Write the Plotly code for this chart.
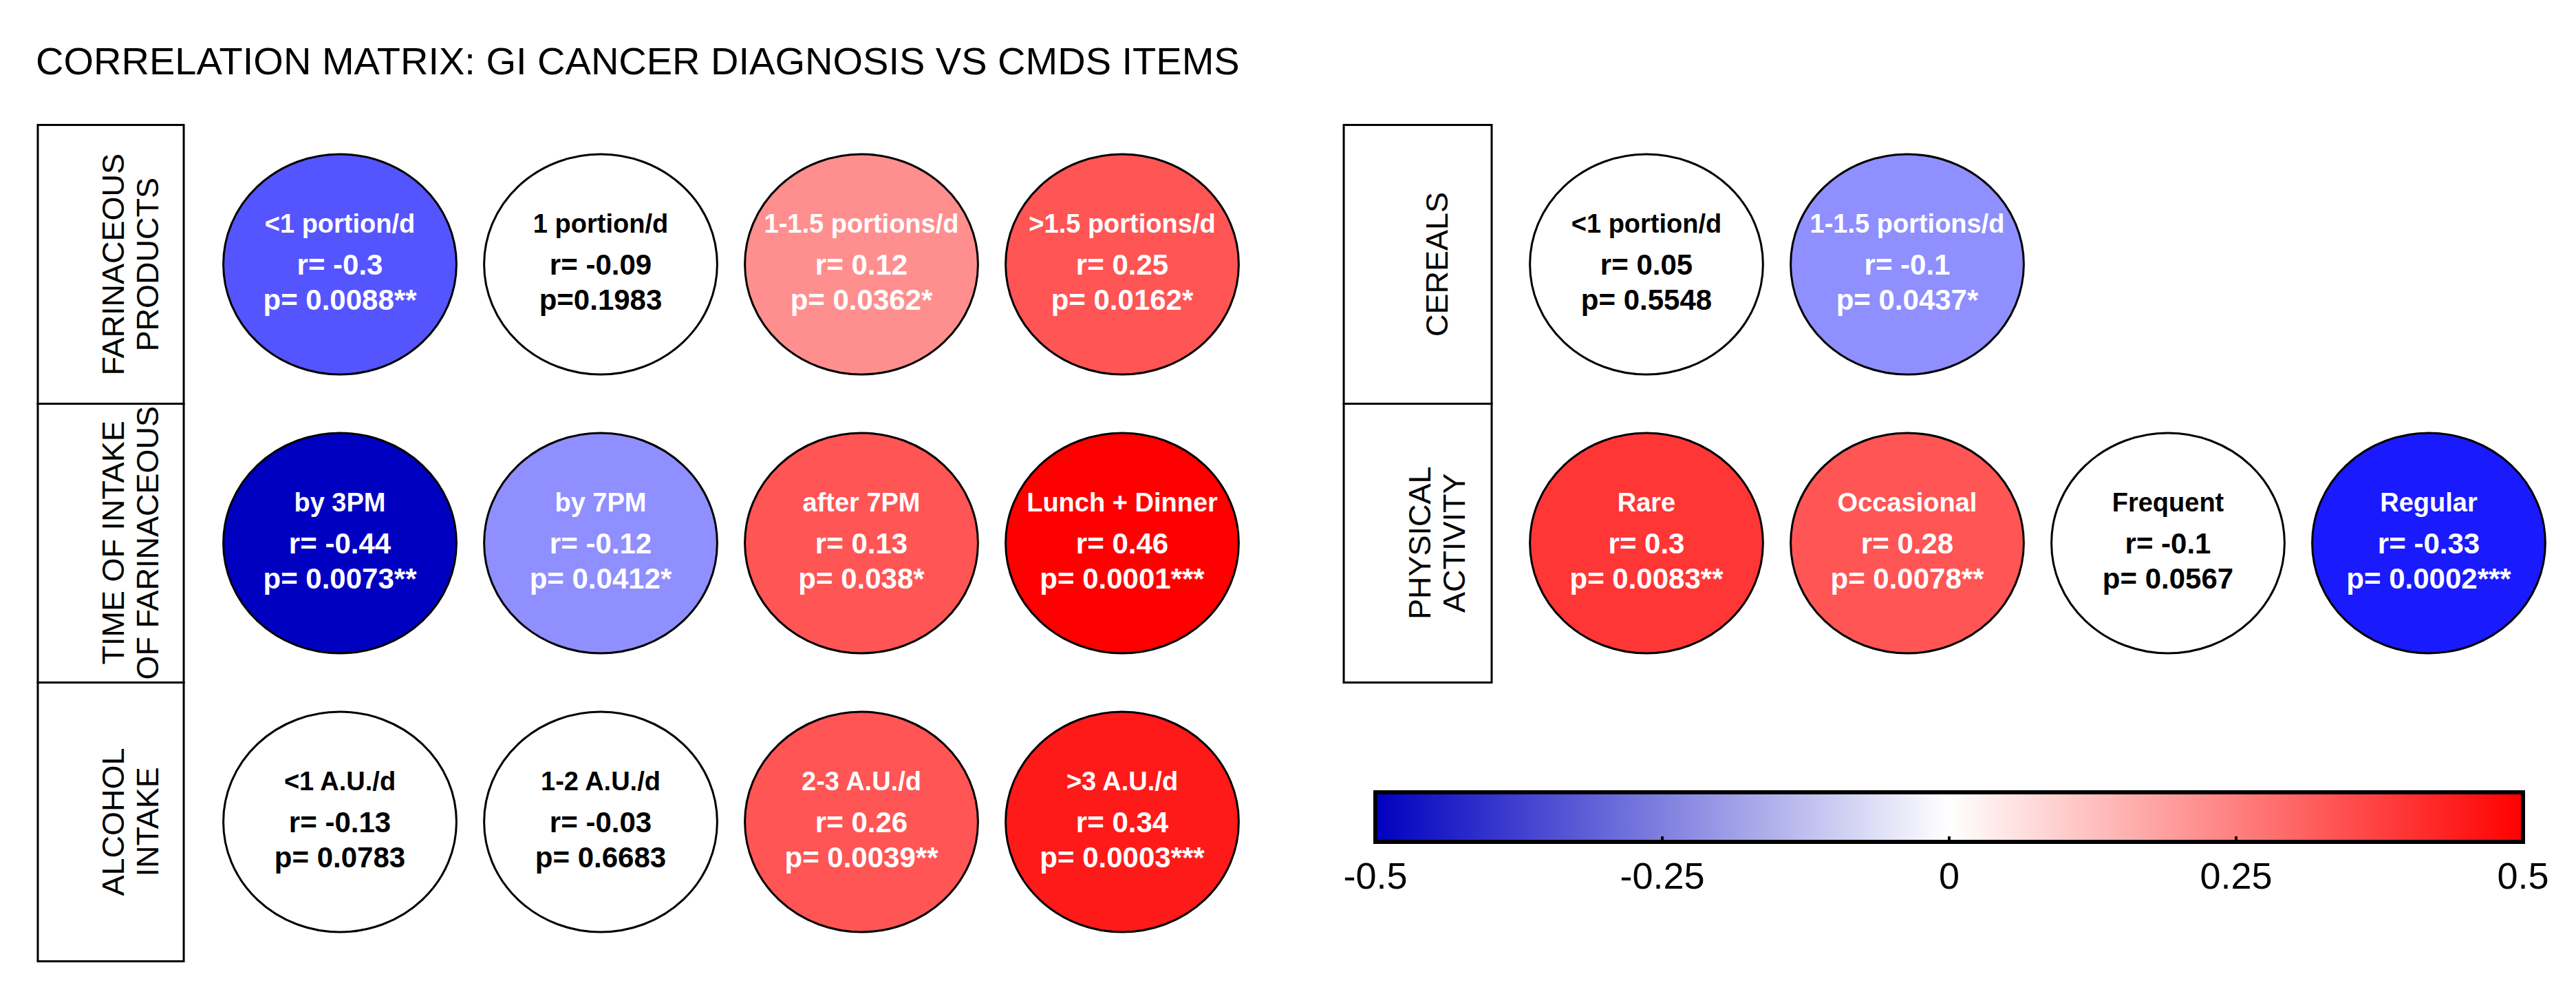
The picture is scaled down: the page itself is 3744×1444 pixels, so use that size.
import plotly.graph_objects as go

# ---------------- data ----------------
title_text = "CORRELATION MATRIX: GI CANCER DIAGNOSIS VS CMDS ITEMS"

left_groups = [["FARINACEOUS", "PRODUCTS"],
               ["TIME OF INTAKE", "OF FARINACEOUS"],
               ["ALCOHOL", "INTAKE"]]
left_items = [["<1 portion/d", "1 portion/d", "1-1.5 portions/d", ">1.5 portions/d"],
              ["by 3PM", "by 7PM", "after 7PM", "Lunch + Dinner"],
              ["<1 A.U./d", "1-2 A.U./d", "2-3 A.U./d", ">3 A.U./d"]]
left_r = [[-0.3, -0.09, 0.12, 0.25],
          [-0.44, -0.12, 0.13, 0.46],
          [-0.13, -0.03, 0.26, 0.34]]
left_p = [["p= 0.0088**", "p=0.1983", "p= 0.0362*", "p= 0.0162*"],
          ["p= 0.0073**", "p= 0.0412*", "p= 0.038*", "p= 0.0001***"],
          ["p= 0.0783", "p= 0.6683", "p= 0.0039**", "p= 0.0003***"]]

right_groups = [["CEREALS"],
                ["PHYSICAL", "ACTIVITY"]]
right_items = [["<1 portion/d", "1-1.5 portions/d"],
               ["Rare", "Occasional", "Frequent", "Regular"]]
right_r = [[0.05, -0.1],
           [0.3, 0.28, -0.1, -0.33]]
right_p = [["p= 0.5548", "p= 0.0437*"],
           ["p= 0.0083**", "p= 0.0078**", "p= 0.0567", "p= 0.0002***"]]

cbar_vals = [-0.5, -0.25, 0, 0.25, 0.5]
cbar_text = ["-0.5", "-0.25", "0", "0.25", "0.5"]

# ---------------- styles ----------------
left_fill = [["#5555FF", "#FFFFFF", "#FF8F8F", "#FF5555"],
             ["#0000C0", "#8F8FFF", "#FF5555", "#FF0000"],
             ["#FFFFFF", "#FFFFFF", "#FF5555", "#FF1A1A"]]
right_fill = [["#FFFFFF", "#8F8FFF"],
              ["#FF3636", "#FF5555", "#FFFFFF", "#1A1AFF"]]
colorscale = [[0, "#0000C0"], [0.5, "#FFFFFF"], [1, "#FF0000"]]
FONT = "Liberation Sans, Arial, sans-serif"
W, H = 3744, 1444
DX, DY = -8, -8  # compensate the page's default body margin


def px(x):
    return (x + DX) / W


def py(y):
    return 1 - (y + DY) / H


fig = go.Figure()


def add_panel(items, rvals, pvals, fills, xa, ya):
    xs, ys, lab, rt, pt, tcol = [], [], [], [], [], []
    for i, row in enumerate(items):
        for j, name in enumerate(row):
            xs.append(j)
            ys.append(i)
            lab.append(name)
            rt.append(f"r= {rvals[i][j]}")
            pt.append(pvals[i][j])
            tcol.append("black" if fills[i][j].upper() == "#FFFFFF" else "white")
            fig.add_shape(type="circle", xref=xa, yref=ya,
                          x0=j - 0.447, x1=j + 0.447, y0=i - 0.395, y1=i + 0.395,
                          fillcolor=fills[i][j], line=dict(color="black", width=3),
                          layer="below")
    for txt, off, size in ((lab, -0.138, 38), (rt, 0.012, 42), (pt, 0.136, 42)):
        fig.add_trace(go.Scatter(x=xs, y=[y + off for y in ys], mode="text", text=txt,
                                 textposition="middle center",
                                 textfont=dict(family=FONT, size=size, color=tcol, weight="bold"),
                                 xaxis=xa, yaxis=ya, showlegend=False, hoverinfo="skip"))
    return xs, ys, [v for row in rvals for v in row]


lx, ly, lr = add_panel(left_items, left_r, left_p, left_fill, "x", "y")
rx, ry, rr = add_panel(right_items, right_r, right_p, right_fill, "x2", "y2")

# colour bar (bottom ticks + labels) and a twin for the top ticks
cb_common = dict(orientation="h", lenmode="pixels", len=1668, thicknessmode="pixels",
                 thickness=72, x=px((1999 + 3667) / 2), xanchor="center",
                 y=1 - 1143 / H, yanchor="top", xpad=0, ypad=0,
                 outlinewidth=6, outlinecolor="black",
                 tickmode="array", tickvals=cbar_vals, ticktext=cbar_text,
                 ticks="inside", ticklen=11, tickwidth=4, tickcolor="black")
fig.add_trace(go.Scatter(x=lx, y=ly, mode="markers", xaxis="x", yaxis="y",
                         marker=dict(color=lr, colorscale=colorscale, cmin=-0.5, cmax=0.5,
                                     size=1, opacity=0, showscale=True,
                                     colorbar=dict(**cb_common,
                                                   tickfont=dict(family=FONT, size=54, color="black"))),
                         showlegend=False, hoverinfo="skip"))
fig.add_trace(go.Scatter(x=rx, y=ry, mode="markers", xaxis="x2", yaxis="y2",
                         marker=dict(color=rr, colorscale=colorscale, cmin=-0.5, cmax=0.5,
                                     size=1, opacity=0, showscale=True,
                                     colorbar=dict(**cb_common, ticklabelposition="outside top",
                                                   showticklabels=False)),
                         showlegend=False, hoverinfo="skip"))


# label boxes
def add_boxes(groups, xa, ya, bx0, bx1):
    n = len(groups)
    for i, lines in enumerate(groups):
        fig.add_shape(type="rect", xref=f"{xa} domain", yref=f"{ya} domain",
                      x0=bx0, x1=bx1, y0=1 - (i + 1) / n, y1=1 - i / n,
                      line=dict(color="black", width=3), fillcolor="rgba(0,0,0,0)")
        k = len(lines)
        for m, line in enumerate(lines):
            fig.add_annotation(xref=f"{xa} domain", yref=ya, x=(bx0 + bx1) / 2, y=i,
                               text=line, showarrow=False, textangle=-90,
                               xshift=(m - (k - 1) / 2) * 50,
                               font=dict(family=FONT, size=45, color="black"))


add_boxes(left_groups, "x", "y", -0.1646, -0.0247)
add_boxes(right_groups, "x2", "y2", -0.1652, -0.0234)

ax = dict(visible=False, fixedrange=True, showgrid=False, zeroline=False)
fig.update_layout(
    width=W, height=H, margin=dict(l=0, r=0, t=0, b=0),
    paper_bgcolor="white", plot_bgcolor="white",
    title=dict(text=title_text, x=px(52), xanchor="left", y=py(88), yanchor="middle",
               pad=dict(l=0, r=0, t=0, b=0),
               font=dict(family=FONT, size=56, color="black")),
    xaxis=dict(ax, domain=[px(304.5), px(1820.5)], range=[-0.5, 3.5]),
    yaxis=dict(ax, domain=[py(1396.5), py(181.5)], range=[2.5, -0.5]),
    xaxis2=dict(ax, domain=[px(2203.5), px(3719.5)], range=[-0.5, 3.5]),
    yaxis2=dict(ax, domain=[py(991.5), py(181.5)], range=[1.5, -0.5]),
    showlegend=False,
)

fig.write_html("out.html")
